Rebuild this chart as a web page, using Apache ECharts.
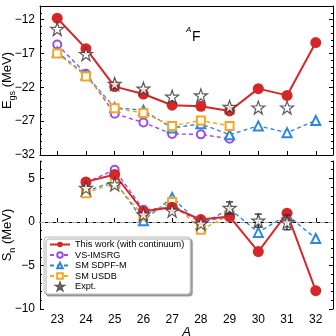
<!DOCTYPE html>
<html>
<head>
<meta charset="utf-8">
<script src="https://cdn.jsdelivr.net/npm/echarts@6/dist/echarts.min.js"></script>
<style>
  html, body { margin: 0; padding: 0; background: #fff; }
  #main { width: 336px; height: 336px; }
</style>
</head>
<body>
<div id="main"></div>
<script>
  // Mass numbers of the F isotopes
  var massNumbers = [23, 24, 25, 26, 27, 28, 29, 30, 31, 32];

  // Ground-state energies (MeV)
  var egsThisWork = [-11.8, -16.3, -21.9, -23.0, -24.65, -24.8, -25.5, -22.2, -23.2, -15.4];
  var egsVsImsrg = [-15.7, -20.0, -25.9, -27.2, -28.9, -28.95, -29.6, null, null, null];
  var egsSdpfm = [-16.8, -20.2, -25.0, -25.4, -28.0, -27.4, -29.0, -27.7, -28.7, -26.9];
  var egsUsdb = [-17.0, -20.4, -25.1, -25.8, -27.7, -26.9, -27.7, null, null, null];
  var egsExpt = [-13.4, -17.1, -21.5, -22.2, -23.4, -23.2, -24.9, -25.0, -25.0, null];

  // One-neutron separation energies (MeV)
  var snThisWork = [null, 4.6, 5.45, 1.2, 1.7, 0.27, 0.62, -3.4, 1.0, -7.9];
  var snVsImsrg = [null, 4.5, 6.0, 1.4, 1.7, 0.0, 0.65, null, null, null];
  var snSdpfm = [null, 3.5, 4.7, 0.15, 2.8, -0.3, 1.5, -1.2, 0.8, -1.9];
  var snUsdb = [null, 3.3, 4.5, 0.7, 2.3, -0.9, 0.8, null, null, null];
  var snExpt = [null, 3.9, 4.3, 0.85, 1.3, -0.2, 1.6, 0.15, -0.05, null];
  var snExptErr = [0, 0, 0, 0, 0, 0, 0.7, 0.75, 0.85, 0];

  // Tick values
  var egsTicks = [-32, -27, -22, -17, -12];
  var snTicks = [-10, -5, 0, 5];

  var seriesNames = ['This work (with continuum)', 'VS-IMSRG', 'SM SDPF-M', 'SM USDB', 'Expt.'];

  var RED = '#d62728', PURPLE = '#9b4de6', BLUE = '#2e86de', ORANGE = '#f5a623', STAR = '#333333';
  var FONT = 'Liberation Sans';
  var STAR_PATH = 'path://M50,0 L62.5,36 L100,36 L69.5,58.5 L81,95 L50,72.5 L19,95 L30.5,58.5 L0,36 L37.5,36 Z';

  var myChart;

  function pairs(values) {
    var out = [], i;
    for (i = 0; i < massNumbers.length; i++) {
      if (values[i] !== null) {
        out.push([massNumbers[i], values[i]]);
      }
    }
    return out;
  }

  function errorData() {
    var out = [], i;
    for (i = 0; i < massNumbers.length; i++) {
      if (snExptErr[i] > 0) {
        out.push([massNumbers[i], snExpt[i] - snExptErr[i], snExpt[i] + snExptErr[i]]);
      }
    }
    return out;
  }

  function minus(v) {
    return String(Math.round(v)).replace('-', '\u2212');
  }

  function minorValues(ticks, min, max) {
    // one minor tick per MeV between the axis limits
    var out = [], v;
    for (v = Math.ceil(min); v <= Math.floor(max); v++) {
      if (ticks.indexOf(v) < 0) {
        out.push(v);
      }
    }
    return out;
  }

  function xAxisFor(grid, showLabels) {
    return {
      type: 'value', gridIndex: grid, min: 22.4, max: 32.6,
      axisLine: { lineStyle: { color: '#000', width: 1 } },
      axisTick: { show: true, inside: true, length: 4, lineStyle: { color: '#000' }, customValues: massNumbers },
      axisLabel: { show: showLabels, color: '#000', fontFamily: FONT, fontSize: 12, margin: 5,
        customValues: massNumbers },
      splitLine: { show: false },
      name: showLabels ? 'A' : '',
      nameLocation: 'middle', nameGap: 17, nameMoveOverlap: false,
      nameTextStyle: { color: '#000', fontFamily: FONT, fontSize: 13, fontStyle: 'italic' }
    };
  }

  function frameX(grid) {
    return {
      type: 'value', gridIndex: grid, position: 'top', min: 0, max: 1,
      axisLine: { lineStyle: { color: '#000', width: 1 } },
      axisTick: { show: false }, axisLabel: { show: false }, splitLine: { show: false }
    };
  }

  // minor ticks drawn as a second, label-less axis on the same side
  function minorAxis(grid, min, max, ticks, side) {
    return {
      type: 'value', gridIndex: grid, position: side, min: min, max: max,
      axisLine: { show: false },
      axisTick: { show: true, inside: true, length: 2, lineStyle: { color: '#000' }, customValues: minorValues(ticks, min, max) },
      axisLabel: { show: false }, splitLine: { show: false }
    };
  }

  function yAxisFor(grid, min, max, ticks, left, name) {
    return {
      type: 'value', gridIndex: grid, position: left ? 'left' : 'right',
      min: min, max: max,
      axisLine: { show: true, lineStyle: { color: '#000', width: 1 } },
      axisTick: { show: true, inside: true, length: 4, lineStyle: { color: '#000' }, customValues: ticks },
      // the label sitting on the lower panel corner is added as a graphic below
      axisLabel: { show: left, color: '#000', fontFamily: FONT, fontSize: 12, margin: 5,
        customValues: ticks.filter(function (t) { return !(grid === 1 && t === min); }), formatter: minus },
      splitLine: { show: false },
      name: left ? name : '',
      nameLocation: 'middle', nameGap: 23, nameMoveOverlap: false,
      nameTextStyle: {
        color: '#000', fontFamily: FONT, fontSize: 13,
        rich: { sub: { fontFamily: FONT, fontSize: 9, color: '#000', padding: [10, 0, 0, 0] } }
      }
    };
  }

  function lineSeries(name, data, xi, yi, color, symbol, size, dashed) {
    return {
      name: name, type: 'line', xAxisIndex: xi, yAxisIndex: yi,
      data: pairs(data), symbol: symbol, symbolSize: size,
      lineStyle: { color: color, width: dashed ? 1.4 : 2, type: dashed ? [4, 3] : 'solid' },
      itemStyle: { color: color, borderColor: color, borderWidth: dashed ? 1.1 : 0 },
      z: dashed ? 2 : 3
    };
  }

  function starSeries(data, xi, yi) {
    return {
      name: seriesNames[4], type: 'scatter', xAxisIndex: xi, yAxisIndex: yi,
      data: pairs(data), symbol: STAR_PATH, symbolSize: 13,
      itemStyle: { color: '#fff', borderColor: STAR, borderWidth: 1.2 },
      z: 5
    };
  }

  function paint() {
    myChart = echarts.init(document.getElementById('main'), null, { renderer: 'canvas' });

    var option = {
      animation: false,
      backgroundColor: '#fff',
      textStyle: { fontFamily: FONT },
      grid: [
        { left: 40, right: 3, top: 6, height: 149, containLabel: false, outerBoundsMode: 'none' },
        { left: 40, right: 3, top: 161, height: 148, containLabel: false, outerBoundsMode: 'none' }
      ],
      xAxis: [xAxisFor(0, false), xAxisFor(1, true), frameX(0), frameX(1)],
      yAxis: [
        yAxisFor(0, -32, -10, egsTicks, true, 'E{sub|gs} (MeV)'),
        yAxisFor(0, -32, -10, egsTicks, false, ''),
        yAxisFor(1, -10, 7, snTicks, true, 'S{sub|n} (MeV)'),
        yAxisFor(1, -10, 7, snTicks, false, ''),
        minorAxis(0, -32, -10, egsTicks, 'left'),
        minorAxis(0, -32, -10, egsTicks, 'right'),
        minorAxis(1, -10, 7, snTicks, 'left'),
        minorAxis(1, -10, 7, snTicks, 'right')
      ],
      legend: {
        left: 44, top: 237, orient: 'vertical',
        data: seriesNames,
        itemWidth: 20, itemHeight: 7, itemGap: 1.5,
        padding: [3, 6, 3, 5],
        backgroundColor: '#fff', borderColor: '#bbb', borderWidth: 1, borderRadius: 3,
        shadowColor: 'rgba(0,0,0,0.35)', shadowOffsetX: 2, shadowOffsetY: 2, shadowBlur: 1,
        textStyle: { color: '#000', fontFamily: FONT, fontSize: 9.2 }
      },
      graphic: [
        { id: 'supA', type: 'text', left: 186, top: 26, style: { text: 'A', fontFamily: FONT, fontSize: 8, fontStyle: 'italic', fill: '#000' } },
        { id: 'elemF', type: 'text', left: 192, top: 30, style: { text: 'F', fontFamily: FONT, fontSize: 14, fill: '#000' } }
      ],
      series: [
        lineSeries(seriesNames[1], egsVsImsrg, 0, 0, PURPLE, 'emptyCircle', 8, true),
        lineSeries(seriesNames[2], egsSdpfm, 0, 0, BLUE, 'emptyTriangle', 9, true),
        lineSeries(seriesNames[3], egsUsdb, 0, 0, ORANGE, 'emptyRect', 8, true),
        lineSeries(seriesNames[0], egsThisWork, 0, 0, RED, 'circle', 11, false),
        starSeries(egsExpt, 0, 0),

        lineSeries(seriesNames[1], snVsImsrg, 1, 2, PURPLE, 'emptyCircle', 8, true),
        lineSeries(seriesNames[2], snSdpfm, 1, 2, BLUE, 'emptyTriangle', 9, true),
        lineSeries(seriesNames[3], snUsdb, 1, 2, ORANGE, 'emptyRect', 8, true),
        (function () {
          var s = lineSeries(seriesNames[0], snThisWork, 1, 2, RED, 'circle', 11, false);
          s.markLine = {
            silent: true, symbol: 'none', label: { show: false }, z: 1,
            lineStyle: { color: '#aaa', type: [5, 3], width: 1.2 },
            data: [{ yAxis: 0 }]
          };
          return s;
        })(),
        {
          name: 'errors', type: 'custom', xAxisIndex: 1, yAxisIndex: 2, z: 4,
          data: errorData(),
          renderItem: function (params, api) {
            var lo = api.coord([api.value(0), api.value(1)]);
            var hi = api.coord([api.value(0), api.value(2)]);
            var st = { stroke: STAR, lineWidth: 1.4 };
            return {
              type: 'group',
              children: [
                { type: 'line', shape: { x1: lo[0], y1: lo[1], x2: hi[0], y2: hi[1] }, style: st },
                { type: 'line', shape: { x1: lo[0] - 3.5, y1: lo[1], x2: lo[0] + 3.5, y2: lo[1] }, style: st },
                { type: 'line', shape: { x1: hi[0] - 3.5, y1: hi[1], x2: hi[0] + 3.5, y2: hi[1] }, style: st }
              ]
            };
          }
        },
        starSeries(snExpt, 1, 2)
      ]
    };

    myChart.setOption(option);

    // corner label of the lower panel, placed through the axis scale
    var yPix = myChart.convertToPixel({ yAxisIndex: 2 }, snTicks[0]);
    var xPix = myChart.convertToPixel({ xAxisIndex: 1 }, 22.4);
    myChart.setOption({
      graphic: [{
        id: 'cornerLabel', type: 'text', x: xPix - 5, y: yPix,
        style: { text: minus(snTicks[0]), fontFamily: FONT, fontSize: 12, fill: '#000',
          align: 'right', verticalAlign: 'middle' }
      }]
    });
  }

  paint();
</script>
</body>
</html>
